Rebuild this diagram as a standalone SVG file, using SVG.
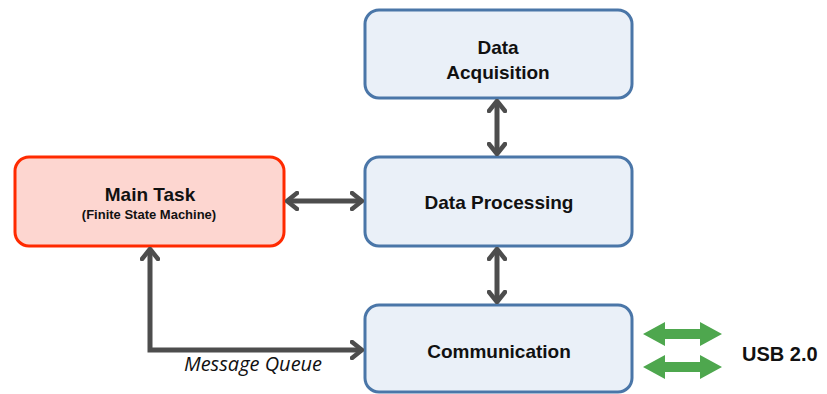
<svg xmlns="http://www.w3.org/2000/svg" width="827" height="394" viewBox="0 0 827 394">
<style>
.box{fill:#eaf0f8;stroke:#4a76a8;stroke-width:3}
.main{fill:#fdd6d0;stroke:#ff2a00;stroke-width:3}
.t{font-family:"Liberation Sans",Arial,sans-serif;font-weight:bold;fill:#111;text-anchor:middle}
.c{fill:none;stroke:#4d4d4d;stroke-width:5}
.g{fill:#4ea74e}
</style>
<defs>
<marker id="ah" viewBox="0 0 14 20" refX="12" refY="10" markerWidth="14" markerHeight="20" markerUnits="userSpaceOnUse" orient="auto-start-reverse">
<path d="M2,2 L12,10 L2,18" fill="none" stroke="#4d4d4d" stroke-width="4.5" stroke-linecap="round" stroke-linejoin="round"/>
</marker>
</defs>
<g id="data-acquisition">
<rect class="box" x="365" y="10" width="267" height="88" rx="14"/>
<text class="t" x="498" y="54" font-size="19">Data</text>
<text class="t" x="498" y="79" font-size="19">Acquisition</text>
</g>
<g id="data-processing">
<rect class="box" x="365" y="157" width="267" height="89" rx="14"/>
<text class="t" x="499" y="209" font-size="19">Data Processing</text>
</g>
<g id="communication">
<rect class="box" x="365" y="305" width="267" height="87" rx="14"/>
<text class="t" x="499" y="358" font-size="19">Communication</text>
</g>
<g id="main-task">
<rect class="main" x="15" y="157" width="269" height="89" rx="14"/>
<text class="t" x="150" y="201" font-size="19">Main Task</text>
<text class="t" x="149" y="219" font-size="13">(Finite State Machine)</text>
</g>
<g id="connectors">
<line class="c" x1="497" y1="101" x2="497" y2="154" marker-start="url(#ah)" marker-end="url(#ah)"/>
<line class="c" x1="287" y1="201" x2="362" y2="201" marker-start="url(#ah)" marker-end="url(#ah)"/>
<line class="c" x1="497" y1="249" x2="497" y2="302" marker-start="url(#ah)" marker-end="url(#ah)"/>
<polyline class="c" points="150,249 150,350 362,350" stroke-linejoin="miter" marker-start="url(#ah)" marker-end="url(#ah)"/>
<text x="253" y="371" font-family="'Open Sans','Liberation Sans',sans-serif" font-style="italic" font-size="20" fill="#111" text-anchor="middle">Message Queue</text>
</g>
<g id="usb">
<polygon class="g" points="643,334 665,322 665,329 700,329 700,322 722,334 700,346 700,339 665,339 665,346"/>
<polygon class="g" points="643,367 665,355 665,362 700,362 700,355 722,367 700,379 700,372 665,372 665,379"/>
<text class="t" x="742" y="361" font-size="20" style="text-anchor:start">USB 2.0</text>
</g>
</svg>
